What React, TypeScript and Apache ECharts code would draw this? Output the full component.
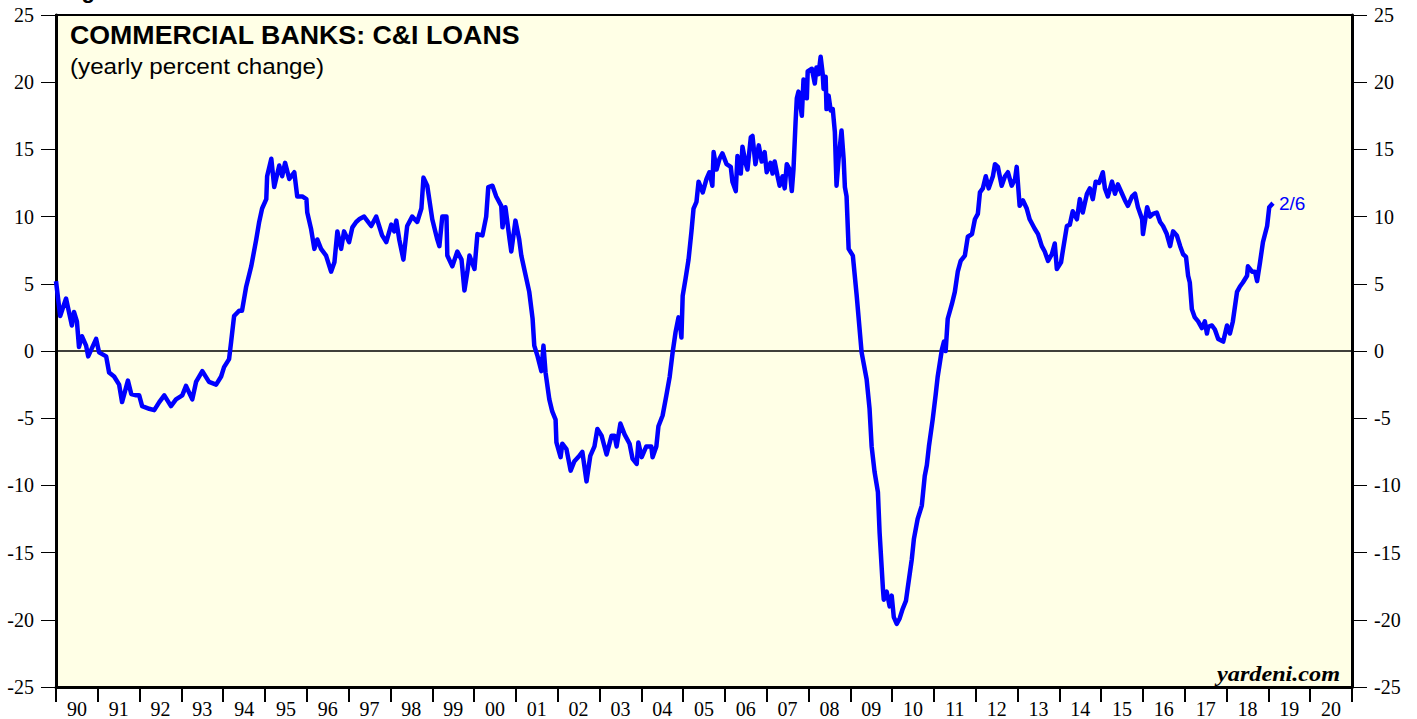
import React, { useEffect, useRef } from "react";
import * as echarts from "echarts";

const yearLabels = ["90","91","92","93","94","95","96","97","98","99","00","01","02","03","04","05","06","07","08","09","10","11","12","13","14","15","16","17","18","19","20"];

const dates = [
  1990.00,1990.10,1990.24,1990.31,1990.38,1990.43,1990.50,1990.55,1990.62,1990.72,1990.77,1990.96,
  1991.03,1991.20,1991.27,1991.39,1991.51,1991.58,1991.72,1991.80,1991.92,1991.99,
  1992.06,1992.23,1992.35,1992.47,1992.59,1992.75,1992.87,
  1993.02,1993.11,1993.26,1993.35,1993.50,1993.66,1993.83,1993.95,
  1994.02,1994.14,1994.19,1994.26,1994.38,1994.45,1994.55,1994.67,1994.79,1994.86,1994.93,
  1995.03,1995.05,1995.15,1995.22,1995.34,1995.41,1995.48,1995.58,1995.70,1995.77,1995.89,1995.99,
  1996.01,1996.10,1996.18,1996.25,1996.34,1996.46,1996.58,1996.66,1996.73,1996.82,1996.89,
  1997.01,1997.09,1997.18,1997.25,1997.37,1997.54,1997.66,1997.73,1997.80,1997.90,
  1998.02,1998.09,1998.14,1998.21,1998.31,1998.40,1998.52,1998.64,1998.74,1998.79,1998.88,
  1999.00,1999.12,1999.17,1999.24,1999.34,1999.36,1999.48,1999.60,1999.70,1999.77,1999.84,1999.89,
  2000.01,2000.08,2000.20,2000.29,2000.34,2000.44,2000.53,2000.65,2000.68,2000.75,2000.85,2000.89,2000.99,
  2001.08,2001.13,2001.20,2001.32,2001.40,2001.44,2001.52,2001.61,2001.66,2001.71,2001.80,2001.87,2001.95,2001.97,
  2002.07,2002.11,2002.21,2002.31,2002.40,2002.52,2002.59,2002.69,2002.78,2002.88,2002.95,
  2003.05,2003.17,2003.29,2003.36,2003.41,2003.50,2003.60,2003.72,2003.79,2003.89,2003.93,
  2004.01,2004.12,2004.24,2004.27,2004.36,2004.41,2004.51,2004.60,2004.68,2004.75,2004.82,2004.89,2004.92,2004.96,2004.99,
  2005.06,2005.13,2005.20,2005.25,2005.32,2005.37,2005.47,2005.56,2005.63,2005.70,2005.73,2005.80,2005.87,2005.94,
  2006.04,2006.14,2006.18,2006.26,2006.30,2006.38,2006.42,2006.50,2006.54,2006.62,2006.66,2006.73,2006.81,2006.88,2006.95,
  2007.00,2007.09,2007.14,2007.19,2007.26,2007.31,2007.38,2007.43,2007.48,2007.55,2007.60,2007.64,2007.69,2007.72,2007.76,2007.84,2007.88,2007.96,2007.98,
  2008.08,2008.15,2008.19,2008.24,2008.29,2008.34,2008.36,2008.41,2008.43,2008.48,2008.53,2008.58,2008.63,2008.67,2008.72,2008.79,2008.84,2008.87,2008.91,2008.96,
  2009.06,2009.15,2009.27,2009.30,2009.39,2009.46,2009.51,2009.58,2009.66,2009.70,2009.78,2009.80,2009.87,2009.94,2009.99,
  2010.04,2010.11,2010.18,2010.25,2010.33,2010.37,2010.47,2010.52,2010.61,2010.71,2010.78,2010.83,2010.88,2010.97,
  2011.04,2011.09,2011.19,2011.24,2011.28,2011.33,2011.43,2011.50,2011.57,2011.64,2011.74,2011.81,2011.91,2011.98,
  2012.05,2012.10,2012.17,2012.24,2012.31,2012.41,2012.46,2012.53,2012.62,2012.70,2012.77,2012.86,2012.94,2012.98,
  2013.05,2013.13,2013.22,2013.29,2013.41,2013.49,2013.58,2013.65,2013.73,2013.82,2013.89,2013.94,
  2014.04,2014.08,2014.18,2014.25,2014.32,2014.42,2014.49,2014.56,2014.66,2014.73,2014.80,2014.87,2014.95,
  2015.04,2015.09,2015.16,2015.26,2015.33,2015.40,2015.50,2015.57,2015.64,2015.74,2015.81,2015.88,2015.98,
  2016.00,2016.10,2016.17,2016.24,2016.33,2016.41,2016.48,2016.57,2016.65,2016.72,2016.81,2016.89,2016.96,
  2017.03,2017.08,2017.12,2017.17,2017.24,2017.32,2017.41,2017.48,2017.53,2017.56,2017.65,2017.72,2017.80,2017.92,
  2018.01,2018.08,2018.15,2018.25,2018.32,2018.39,2018.49,2018.51,2018.61,2018.68,2018.73,2018.80,2018.87,2018.97,
  2019.02,2019.11,
];

const loanGrowth = [
  5.2,2.6,3.9,2.9,1.9,2.9,2.2,0.3,1.1,0.4,-0.4,0.9,
  -0.1,-0.4,-1.6,-1.9,-2.5,-3.8,-2.2,-3.2,-3.3,-3.3,
  -4.1,-4.3,-4.4,-3.8,-3.3,-4.1,-3.6,
  -3.3,-2.6,-3.6,-2.3,-1.5,-2.3,-2.5,-1.9,
  -1.2,-0.6,0.7,2.6,3.0,3.0,4.8,6.3,8.3,9.6,10.6,
  11.3,13.0,14.3,12.2,13.8,13.0,14.0,12.8,13.3,11.5,11.5,11.3,
  10.3,9.1,7.6,8.3,7.6,7.1,5.9,6.6,8.9,7.6,8.9,
  8.1,9.2,9.6,9.8,10.0,9.3,10.0,9.3,8.6,8.1,
  9.4,8.9,9.7,8.3,6.8,9.3,10.0,9.6,10.6,12.9,12.3,
  9.8,8.3,7.8,10.0,10.0,7.1,6.3,7.4,6.8,4.5,5.9,7.1,
  6.1,8.7,8.6,10.0,12.2,12.3,11.5,10.8,9.2,10.7,8.3,7.4,9.7,
  8.3,7.1,6.1,4.4,2.4,0.4,-0.4,-1.5,0.4,-1.6,-3.6,-4.5,-5.1,-6.8,
  -7.9,-6.9,-7.3,-8.9,-8.2,-7.8,-7.5,-9.7,-7.8,-7.1,-5.8,
  -6.3,-7.7,-6.3,-6.3,-7.1,-5.4,-6.2,-6.9,-8.0,-8.4,-6.8,
  -7.9,-7.1,-7.1,-7.9,-7.1,-5.6,-4.8,-3.3,-1.9,-0.1,1.4,2.5,2.2,1.0,4.1,
  5.4,6.8,8.9,10.6,11.1,12.6,11.8,12.8,13.3,12.3,14.8,13.5,14.3,14.7,
  13.9,13.7,12.6,11.9,14.5,13.2,15.2,13.9,13.5,15.9,16.0,13.9,15.3,14.1,14.8,
  13.3,14.0,13.2,14.1,13.0,12.3,13.0,12.1,13.9,13.5,11.9,13.5,17.0,18.8,19.3,17.5,20.2,18.8,20.8,
  21.0,19.9,21.1,20.6,21.9,20.6,19.5,20.4,18.0,19.0,17.9,18.0,16.3,12.3,14.3,16.4,14.3,12.2,11.5,7.6,
  7.1,4.2,-0.1,-0.6,-2.1,-4.3,-7.1,-9.0,-10.5,-13.5,-17.7,-18.5,-17.9,-19.0,-18.2,
  -19.8,-20.3,-19.9,-19.2,-18.6,-17.7,-15.5,-14.0,-12.5,-11.5,-9.3,-8.5,-7.1,-5.1,
  -3.3,-1.9,0.1,0.7,0.0,2.4,3.5,4.4,5.9,6.7,7.1,8.5,8.7,9.8,
  10.2,11.8,12.1,13.0,12.1,13.0,13.9,13.7,12.3,13.0,13.3,12.3,12.8,13.7,
  10.8,11.2,10.6,9.8,9.1,8.7,7.8,7.4,6.7,7.2,8.0,6.1,
  6.6,7.4,9.3,9.4,10.4,9.8,11.3,10.3,11.7,12.1,11.3,12.6,12.5,
  13.3,12.1,11.5,12.6,11.7,12.4,11.7,11.2,10.8,11.5,11.7,10.7,9.8,
  8.7,10.7,10.0,10.2,10.3,9.6,9.3,8.7,7.8,8.9,8.6,7.8,7.2,
  7.0,5.6,5.1,3.1,2.5,2.2,1.7,2.2,1.3,1.8,1.9,1.6,0.9,0.7,
  1.9,1.3,2.2,4.4,4.8,5.1,5.6,6.3,5.9,5.9,5.2,6.6,8.1,9.3,
  10.7,11.0,
];

const lastLabel = "2/6";
const zeroLine = [[1990, 0], [2021, 0]];

export default function App() {
  const ref = useRef<HTMLDivElement>(null);
  useEffect(() => {
    document.body.style.margin = "0";
    const chart = echarts.init(ref.current!, null, { renderer: "svg" });
    const serif = "'Liberation Serif', 'Times New Roman', serif";
    const sans = "'Liberation Sans', Arial, sans-serif";
    const yAxisBase = {
      type: "value",
      min: -25,
      max: 25,
      interval: 5,
      axisLine: { show: true, onZero: false, lineStyle: { color: "#000", width: 3 } },
      axisTick: { show: true, inside: false, length: 15, lineStyle: { color: "#000", width: 1 } },
      axisLabel: { color: "#000", fontFamily: serif, fontSize: 20, margin: 22 },
      splitLine: { show: false },
    };
    chart.setOption({
      animation: false,
      backgroundColor: "#fff",
      grid: {
        left: 56,
        right: 65,
        top: 15,
        bottom: 31,
        show: true,
        backgroundColor: "#FFFFE6",
        borderColor: "#000",
        borderWidth: 2,
      },
      xAxis: [
        {
          type: "category",
          data: yearLabels,
          boundaryGap: true,
          position: "bottom",
          axisLine: { show: true, onZero: false, lineStyle: { color: "#000", width: 3 } },
          axisTick: { show: true, inside: false, length: 15, lineStyle: { color: "#000", width: 2 } },
          axisLabel: { color: "#000", fontFamily: serif, fontSize: 20, margin: 12 },
          splitLine: { show: false },
        },
        {
          type: "value",
          min: 1990,
          max: 2021,
          show: false,
          axisLine: { onZero: false },
        },
      ],
      yAxis: [
        { ...yAxisBase, position: "left" },
        { ...yAxisBase, position: "right" },
      ],
      series: [
        {
          type: "line",
          xAxisIndex: 1,
          yAxisIndex: 0,
          data: zeroLine,
          showSymbol: false,
          symbol: "none",
          lineStyle: { color: "#000", width: 1.4 },
          z: 1,
          silent: true,
        },
        {
          type: "line",
          xAxisIndex: 1,
          yAxisIndex: 0,
          data: dates.map((d, i) => [d, loanGrowth[i]]),
          showSymbol: false,
          symbol: "none",
          lineStyle: { color: "#0000FF", width: 4.5, join: "round" },
          z: 2,
          endLabel: {
            show: true,
            formatter: lastLabel,
            color: "#0000FF",
            fontFamily: sans,
            fontSize: 19,
            distance: 6,
          },
        },
      ],
      graphic: [
        {
          type: "text",
          x: 62,
          y: -21,
          style: { text: "Figure", fontFamily: sans, fontWeight: "bold", fontSize: 22, fill: "#000" },
        },
        {
          type: "text",
          x: 70,
          y: 23,
          scaleX: 1.07,
          style: { text: "COMMERCIAL BANKS: C&I LOANS", fontFamily: sans, fontWeight: "bold", fontSize: 25, fill: "#000" },
        },
        {
          type: "text",
          x: 70,
          y: 55,
          scaleX: 1.1,
          style: { text: "(yearly percent change)", fontFamily: sans, fontSize: 22, fill: "#000" },
        },
        {
          type: "text",
          x: 1340,
          y: 662,
          scaleX: 1.1,
          style: { text: "yardeni.com", fontFamily: serif, fontWeight: "bold", fontStyle: "italic", fontSize: 22, fill: "#000", align: "right" },
        },
      ],
    });
    return () => chart.dispose();
  }, []);
  return <div ref={ref} style={{ position: "absolute", left: 0, top: 0, width: 1417, height: 719 }} />;
}
